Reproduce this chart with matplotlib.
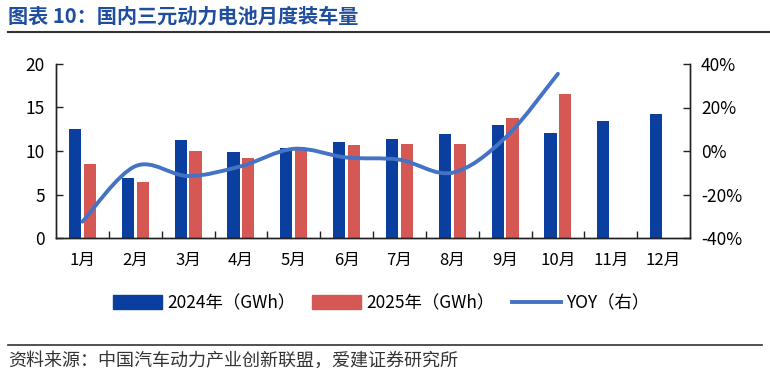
import matplotlib
matplotlib.use('Agg')
import matplotlib.pyplot as plt
from matplotlib.path import Path
from matplotlib.patches import PathPatch, Patch
from matplotlib.lines import Line2D
import numpy as np

plt.rcParams['font.family'] = ['Noto Sans CJK SC', 'DejaVu Sans']

# 数据
months = ['1月', '2月', '3月', '4月', '5月', '6月', '7月', '8月', '9月', '10月', '11月', '12月']
v2024 = [12.5, 6.9, 11.3, 9.9, 10.3, 11.0, 11.4, 12.0, 13.0, 12.1, 13.5, 14.3]
v2025 = [8.5, 6.4, 10.0, 9.2, 10.4, 10.7, 10.8, 10.8, 13.8, 16.5]
yoy = [-32.5, -7.0, -11.5, -7.0, 1.0, -3.0, -4.0, -10.0, 6.0, 35.5]

c_blue = '#0a3fa0'
c_red = '#d65855'
c_line = '#4472c4'
c_title = '#1f4e9e'

fig = plt.figure(figsize=(7.7, 3.76), dpi=100)
ax = fig.add_axes([56 / 770, 1 - 238 / 376, 634 / 770, 174 / 376])
ax2 = ax.twinx()

x = np.arange(len(months))
w = 0.23
ax.bar(x - 0.14, v2024, w, color=c_blue, zorder=2)
ax.bar(np.arange(len(v2025)) + 0.14, v2025, w, color=c_red, zorder=2)

ax.set_xlim(-0.5, 11.5)
ax.set_ylim(0, 20)
ax.set_yticks([0, 5, 10, 15, 20])
ax2.set_ylim(-40, 40)
ax2.set_yticks([-40, -20, 0, 20, 40])
ax2.set_yticklabels([f'{v}%' for v in [-40, -20, 0, 20, 40]])

# 横轴：刻度在分类边界，标签在中间
ax.set_xticks(np.arange(0.5, 11.5, 1))
ax.set_xticklabels([])
ax.set_xticks(x, minor=True)
ax.set_xticklabels(months, minor=True)
ax.tick_params(axis='x', which='major', direction='in', length=5, width=1, color='#222222')
ax.tick_params(axis='x', which='minor', length=0, pad=10, labelsize=12)
ax.tick_params(axis='y', direction='in', length=5, width=1, labelsize=12.5, pad=8, color='#222222')
ax2.tick_params(axis='y', direction='in', length=5, width=1, labelsize=12.5, pad=8, color='#222222')

for a in (ax, ax2):
    a.spines['top'].set_visible(False)
    for s in ('left', 'right', 'bottom'):
        a.spines[s].set_color('#222222')
        a.spines[s].set_linewidth(1)

# 平滑曲线（Catmull-Rom 转 Bezier）
px = np.arange(len(yoy), dtype=float)
py = np.array(yoy, dtype=float)
verts = [(px[0], py[0])]
codes = [Path.MOVETO]
n = len(px)
for i in range(n - 1):
    p0 = (px[max(i - 1, 0)], py[max(i - 1, 0)])
    p1 = (px[i], py[i])
    p2 = (px[i + 1], py[i + 1])
    p3 = (px[min(i + 2, n - 1)], py[min(i + 2, n - 1)])
    c1 = (p1[0] + (p2[0] - p0[0]) / 6, p1[1] + (p2[1] - p0[1]) / 6)
    c2 = (p2[0] - (p3[0] - p1[0]) / 6, p2[1] - (p3[1] - p1[1]) / 6)
    verts += [c1, c2, p2]
    codes += [Path.CURVE4] * 3
ax2.add_patch(PathPatch(Path(verts, codes), facecolor='none', edgecolor=c_line,
                        linewidth=2.8, capstyle='round', zorder=3))

# 图例
handles = [Patch(color=c_blue), Patch(color=c_red), Line2D([], [], color=c_line, linewidth=2.8)]
labels = ['2024年（GWh）', '2025年（GWh）', 'YOY（右）']
fig.legend(handles, labels, loc='center', bbox_to_anchor=(381 / 770, 1 - 303 / 376), ncol=3,
           frameon=False, fontsize=12.5, handlelength=2.8, handleheight=0.8,
           handletextpad=0.3, columnspacing=1.0)

# 标题与来源
fig.text(8 / 770, 1 - 16 / 376, '图表 10：国内三元动力电池月度装车量', fontsize=14.5,
         fontweight='bold', color=c_title, va='center', ha='left')
fig.add_artist(Line2D([8 / 770, 1.0], [1 - 31.5 / 376] * 2, color='#333333', linewidth=1.5))
fig.add_artist(Line2D([8 / 770, 762 / 770], [1 - 345 / 376] * 2, color='#333333', linewidth=1.2))
fig.text(8 / 770, 1 - 361 / 376, '资料来源：中国汽车动力产业创新联盟，爱建证券研究所', fontsize=13,
         color='#333333', va='center', ha='left')

fig.savefig('out.png', dpi=100, facecolor='white')
